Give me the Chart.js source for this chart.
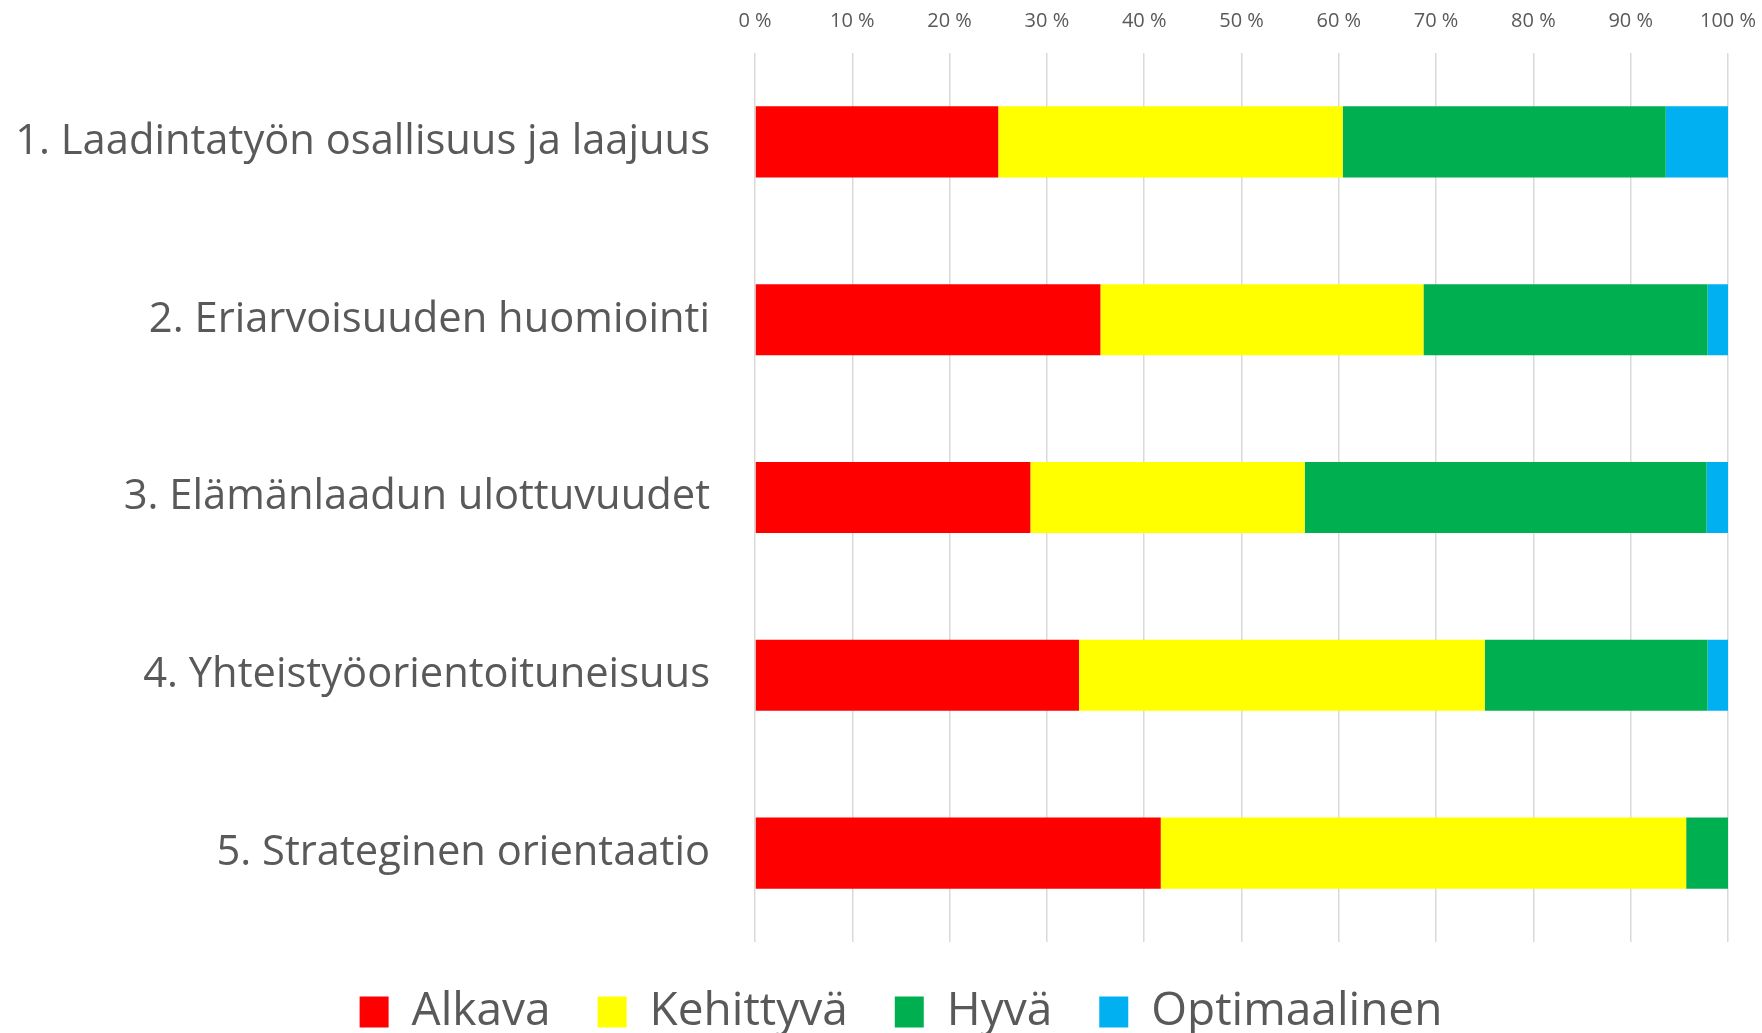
<!DOCTYPE html>
<html>
<head>
<meta charset="utf-8">
<script src="https://cdn.jsdelivr.net/npm/chart.js@4/dist/chart.umd.min.js"></script>
<style>
  html, body { margin: 0; padding: 0; background: #fff; overflow: hidden; }
  canvas { display: block; }
</style>
</head>
<body>
<canvas id="chart" width="1762" height="1033"></canvas>
<script>
// categories (top to bottom)
const categories = [
    '1. Laadintatyön osallisuus ja laajuus',
    '2. Eriarvoisuuden huomiointi',
    '3. Elämänlaadun ulottuvuudet',
    '4. Yhteistyöorientoituneisuus',
    '5. Strateginen orientaatio'
];

// shares in percent
const alkava       = [25.0, 35.5, 28.3, 33.3, 41.7];
const kehittyva    = [35.4, 33.2, 28.2, 41.7, 54.0];
const hyva         = [33.2, 29.2, 41.3, 22.9, 4.3];
const optimaalinen = [6.4, 2.1, 2.2, 2.1, 0];

const seriesNames = ['Alkava', 'Kehittyvä', 'Hyvä', 'Optimaalinen'];
const seriesColors = ['#ff0000', '#ffff00', '#00b050', '#00b0f0'];

const textColor = '#595959';

// the legend in the original sits a bit right of the canvas centre
const legendShift = {
    id: 'legendShift',
    afterLayout(chart) {
        chart.legend.left += 37;
        chart.legend.right += 37;
    }
};

const chart = new Chart(document.getElementById('chart').getContext('2d'), {
    type: 'bar',
    data: {
        labels: categories,
        datasets: [alkava, kehittyva, hyva, optimaalinen].map((vals, i) => ({
            label: seriesNames[i],
            data: vals,
            backgroundColor: seriesColors[i],
            borderWidth: 0,
            barPercentage: 0.4,
            categoryPercentage: 1.0
        }))
    },
    options: {
        indexAxis: 'y',
        responsive: false,
        animation: false,
        layout: { padding: { top: -11, right: 34, bottom: -12, left: 0 } },
        plugins: {
            tooltip: { enabled: false },
            legend: {
                position: 'bottom',
                labels: {
                    color: textColor,
                    font: { family: 'Open Sans', size: 46 },
                    boxWidth: 29,
                    boxHeight: 31,
                    padding: 47
                }
            }
        },
        scales: {
            x: {
                position: 'top',
                stacked: true,
                min: 0,
                max: 100,
                ticks: {
                    stepSize: 10,
                    color: textColor,
                    padding: 20,
                    maxRotation: 0,
                    font: { family: 'Open Sans', size: 20 },
                    callback: v => v + ' %'
                },
                grid: { color: '#d9d9d9', lineWidth: 1.5, drawTicks: false },
                border: { display: false },
                afterFit: scale => { scale.paddingLeft = 0; scale.paddingRight = 0; }
            },
            y: {
                stacked: true,
                ticks: {
                    color: textColor,
                    padding: 37,
                    font: { family: 'Open Sans', size: 41.7 }
                },
                grid: { display: false },
                border: { display: false },
                afterFit: scale => {
                    // plot area starts at x = 755
                    scale.width = 755;
                    scale.paddingTop = 0;
                    scale.paddingBottom = 0;
                }
            }
        }
    },
    plugins: [legendShift]
});
</script>
</body>
</html>
